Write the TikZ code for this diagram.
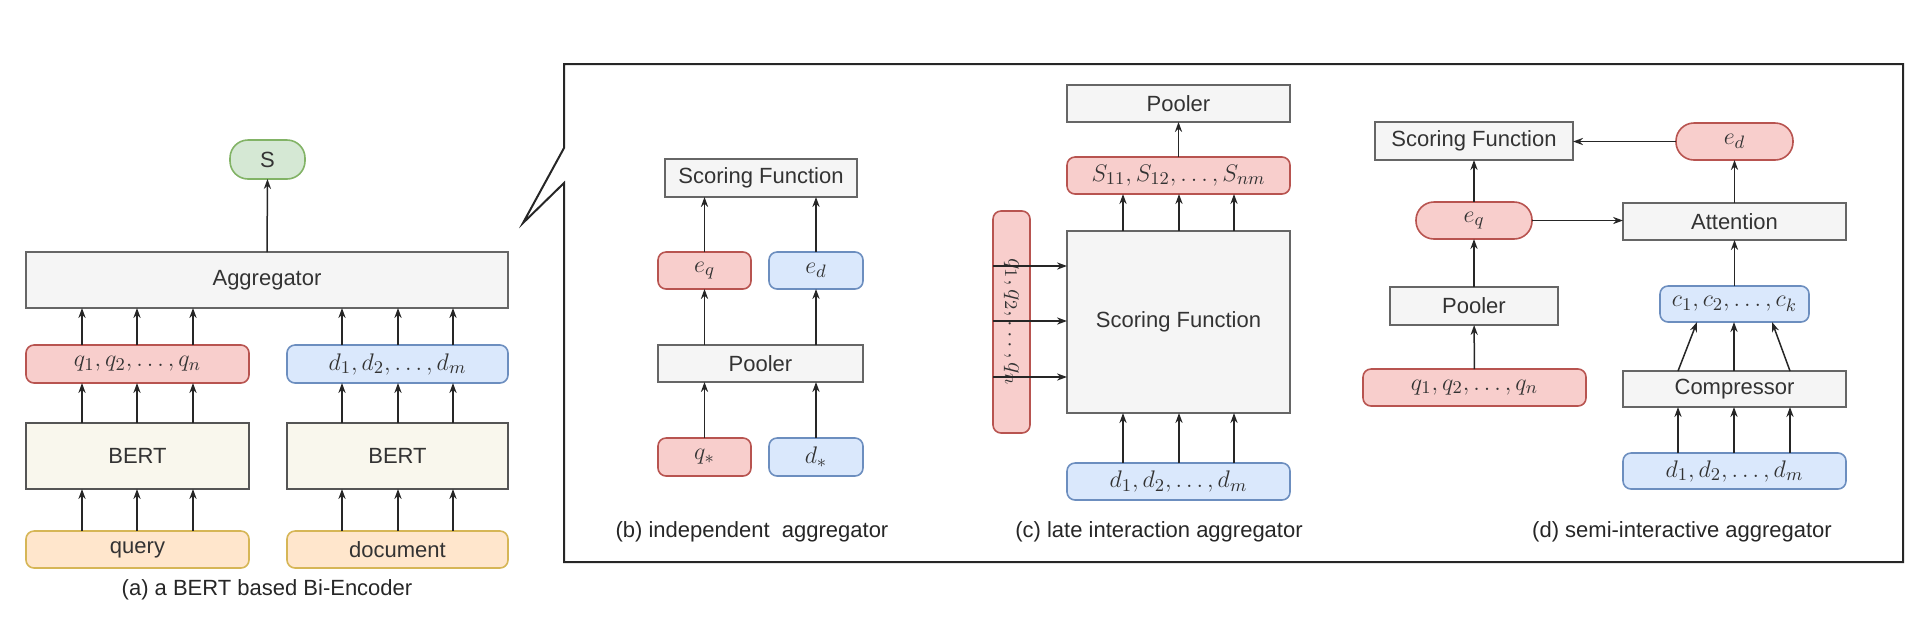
\documentclass[tikz,border=0pt]{standalone}
\usepackage{fontspec}
\setmainfont{Liberation Sans}
\usetikzlibrary{arrows.meta,calc}
\definecolor{gfill}{HTML}{F5F5F5}\definecolor{gdraw}{HTML}{666666}
\definecolor{rfill}{HTML}{F8CECC}\definecolor{rdraw}{HTML}{B85450}
\definecolor{bfill}{HTML}{DAE8FC}\definecolor{bdraw}{HTML}{6C8EBF}
\definecolor{grfill}{HTML}{D5E8D4}\definecolor{grdraw}{HTML}{82B366}
\definecolor{yfill}{HTML}{FFE6CC}\definecolor{ydraw}{HTML}{D6B656}
\definecolor{bertfill}{HTML}{F9F7ED}\definecolor{bertdraw}{HTML}{555555}
\newcommand\bx[7]{\node[#2, minimum width={(#5-#3)*0.5pt}, minimum height={(#6-#4)*0.5pt}] (#1) at ({(#3+#5)/2},{(#4+#6)/2}) {#7};}
\newcommand\upar[3]{\draw[arr] (#1.north -| #3,0) -- (#2.south -| #3,0);}
\begin{document}
\begin{tikzpicture}[x=0.5pt,y=-0.5pt,
  base/.style={draw, line width=0.8pt, inner sep=0pt, outer sep=0pt, font=\fontsize{11}{13}\selectfont, text=black!80},
  gbox/.style={base, fill=gfill, draw=gdraw},
  rbox/.style={base, fill=rfill, draw=rdraw, rounded corners=4pt, font=\fontsize{12.5}{14}\selectfont},
  bbox/.style={base, fill=bfill, draw=bdraw, rounded corners=4pt, font=\fontsize{12.5}{14}\selectfont},
  rpill/.style={base, fill=rfill, draw=rdraw, rounded corners=9pt, font=\fontsize{12.5}{14}\selectfont},
  gpill/.style={base, fill=grfill, draw=grdraw, rounded corners=9pt},
  ybox/.style={base, fill=yfill, draw=ydraw, rounded corners=4pt},
  bert/.style={base, fill=bertfill, draw=bertdraw},
  captxt/.style={font=\fontsize{11}{13}\selectfont, text=black!85},
  arr/.style={-{Stealth[length=5pt,width=3.6pt]}, line width=0.75pt, black!85}]
\useasboundingbox (0,0) rectangle (1920,618);
% ---------- (a)
\bx{S}{gpill}{230}{140}{305}{179}{S}
\bx{agg}{gbox}{26}{252}{508}{308}{Aggregator}
\bx{qa}{rbox}{26}{345}{249}{383}{$q_1,q_2,\ldots,q_n$}
\bx{da}{bbox}{287}{345}{508}{383}{$d_1,d_2,\ldots,d_m$}
\bx{bq}{bert}{26}{423}{249}{489}{BERT}
\bx{bd}{bert}{287}{423}{508}{489}{BERT}
\bx{query}{ybox}{26}{531}{249}{568}{query}
\bx{doc}{ybox}{287}{531}{508}{568}{document}
\node[captxt] (capa) at (267,590) {(a) a BERT based Bi-Encoder};
\draw[arr] (agg.north) -- (S.south);
\foreach \x in {82,137,193}{\upar{qa}{agg}{\x}\upar{bq}{qa}{\x}\upar{query}{bq}{\x}}
\foreach \x in {342,398,453}{\upar{da}{agg}{\x}\upar{bd}{da}{\x}\upar{doc}{bd}{\x}}
% ---------- frame
\draw[line width=1pt, black!85] (564,148) -- (564,64) -- (1903,64) -- (1903,562) -- (564,562) -- (564,183) -- (523,223) -- cycle;
% ---------- (b)
\bx{sfb}{gbox}{665}{159}{857}{197}{Scoring Function}
\bx{eqb}{rbox}{658}{252}{751}{289}{$e_q$}
\bx{edb}{bbox}{769}{252}{863}{289}{$e_d$}
\bx{plb}{gbox}{658}{345}{863}{382}{Pooler}
\bx{qsb}{rbox}{658}{438}{751}{476}{$q_*$}
\bx{dsb}{bbox}{769}{438}{863}{476}{$d_*$}
\node[captxt] (capb) at (752,532) {(b) independent\ \ aggregator};
\draw[arr] (qsb) -- (plb.south -| qsb);
\draw[arr] (dsb) -- (plb.south -| dsb);
\draw[arr] (plb.north -| eqb) -- (eqb);
\draw[arr] (plb.north -| edb) -- (edb);
\draw[arr] (eqb) -- (sfb.south -| eqb);
\draw[arr] (edb) -- (sfb.south -| edb);
% ---------- (c)
\bx{plc}{gbox}{1067}{85}{1290}{122}{Pooler}
\bx{sc}{rbox}{1067}{157}{1290}{194}{$S_{11},S_{12},\ldots,S_{nm}$}
\bx{big}{gbox}{1067}{231}{1290}{413}{Scoring Function}
\node[rbox, minimum width={(433-211)*0.5pt}, minimum height={(1030-993)*0.5pt}, rotate=-90] (qv) at (1011.5,322) {$q_1,q_2,\ldots,q_n$};
\bx{dc}{bbox}{1067}{463}{1290}{500}{$d_1,d_2,\ldots,d_m$}
\node[captxt] (capc) at (1159,532) {(c) late interaction aggregator};
\draw[arr] (sc) -- (plc);
\foreach \x in {1123,1179,1234}{\upar{big}{sc}{\x}\upar{dc}{big}{\x}}
\foreach \y in {266,321,377}{\draw[arr] (qv.south |- 0,\y) -- (big.west |- 0,\y);}
% ---------- (d)
\bx{sfd}{gbox}{1375}{122}{1573}{160}{Scoring Function}
\bx{edd}{rpill}{1676}{123}{1793}{160}{$e_d$}
\bx{eqd}{rpill}{1416}{202}{1532}{239}{$e_q$}
\bx{att}{gbox}{1623}{203}{1846}{240}{Attention}
\bx{pld}{gbox}{1390}{287}{1558}{325}{Pooler}
\bx{cd}{bbox}{1660}{286}{1809}{322}{$c_1,c_2,\ldots,c_k$}
\bx{qd}{rbox}{1363}{369}{1586}{406}{$q_1,q_2,\ldots,q_n$}
\bx{comp}{gbox}{1623}{371}{1846}{407}{Compressor}
\bx{dd}{bbox}{1623}{453}{1846}{489}{$d_1,d_2,\ldots,d_m$}
\node[captxt] (capd) at (1682,532) {(d) semi-interactive aggregator};
\draw[arr] (qd) -- (pld);
\draw[arr] (pld) -- (eqd);
\draw[arr] (eqd) -- (sfd.south -| eqd);
\draw[arr] (eqd.east) -- (att.west |- eqd.east);
\draw[arr] (edd.west) -- (sfd.east |- edd.west);
\draw[arr] (att) -- (edd);
\draw[arr] (cd) -- (att);
\foreach \x in {1678,1734,1790}{\upar{dd}{comp}{\x}}
\draw[arr] (comp.north -| 1678,0) -- (cd.south -| 1697,0);
\draw[arr] (comp.north -| 1734,0) -- (cd.south -| 1734,0);
\draw[arr] (comp.north -| 1790,0) -- (cd.south -| 1772,0);
\end{tikzpicture}
\end{document}
